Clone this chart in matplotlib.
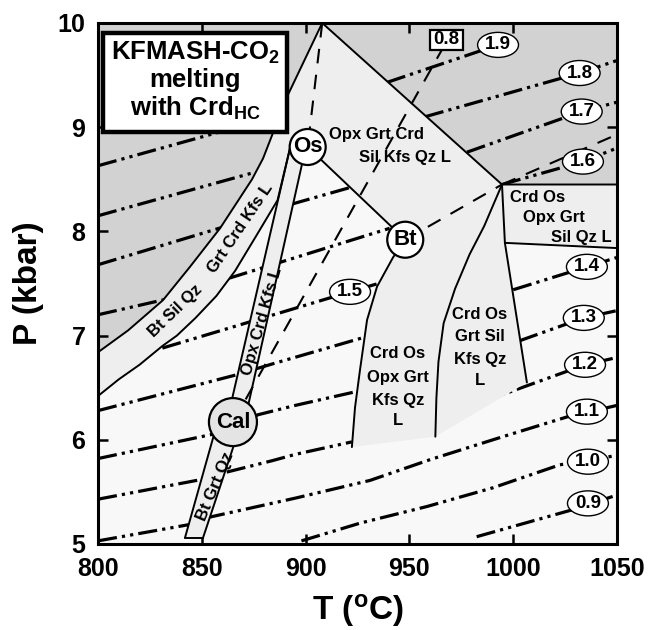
import numpy as np
import matplotlib.pyplot as plt
from matplotlib.patches import Polygon, Ellipse, Rectangle

plt.rcParams['font.family'] = ['Liberation Sans', 'DejaVu Sans']
plt.rcParams['font.weight'] = 'bold'
plt.rcParams['axes.labelweight'] = 'bold'
plt.rcParams['mathtext.fontset'] = 'custom'
plt.rcParams['mathtext.rm'] = 'Liberation Sans:bold'
plt.rcParams['mathtext.bf'] = 'Liberation Sans:bold'
plt.rcParams['mathtext.it'] = 'Liberation Sans:bold'
plt.rcParams['mathtext.default'] = 'rm'

nan = np.nan

# invariant points, T (deg C) and P (kbar)
apex_TP = (908.0, 10.0)
os_TP = (901.0, 8.81)
bt_TP = (948.0, 7.92)
cal_TP = (865.0, 6.17)
junc_TP = (994.6, 8.45)

# Bt Sil Qz Grt Crd Kfs L band
upper_T = [800, 814.5, 831.3, 844.3, 858.8, 867, 874.2, 879.5, 883.8, 891, 908]
upper_P = [6.84, 7.05, 7.34, 7.66, 8.03, 8.28, 8.50, 8.70, 8.92, 9.29, 10.0]
lower_T = [800, 810, 820, 831, 838, 847, 857, 866, 876, 886.5, 892.5]
lower_P = [6.42, 6.58, 6.72, 6.90, 7.00, 7.17, 7.38, 7.62, 7.95, 8.30, 8.80]

# Opx Crd Kfs L band (Os -> Cal)
opx_left_T = [892.5, 863.5]
opx_left_P = [8.80, 6.30]
opx_right_T = [900.0, 872.0]
opx_right_P = [8.80, 6.30]

# Bt Grt Qz band (Cal -> bottom)
btq_left_T = [858.0, 841.9]
btq_left_P = [6.20, 5.06]
btq_right_T = [868.0, 850.6]
btq_right_P = [6.10, 5.06]

# curves below Bt and below the right junction
btlow_T = [948, 942.1, 934.4, 929.6, 926.2, 923.8, 922.3]
btlow_P = [7.92, 7.75, 7.47, 7.15, 6.67, 6.31, 5.93]
jcurve_T = [994.6, 986, 979, 972, 966.5, 964, 963, 962.5]
jcurve_P = [8.45, 8.05, 7.78, 7.45, 7.12, 6.75, 6.40, 6.03]
rline_T = [996.0, 1006.6]
rline_P = [7.89, 6.55]
box_T = [994.6, 1050, 1050, 996.0, 994.6]
box_P = [8.45, 8.45, 7.84, 7.89, 8.45]

# dashed reactions
dash_os_T, dash_os_P = [908, 901], [10.0, 8.81]
dash_bt_T, dash_bt_P = [948, 994.6], [7.92, 8.45]
dash_j_T, dash_j_P = [994.6, 1050], [8.45, 8.93]
dash_08_T, dash_08_P = [865, 965.7], [6.17, 9.745]

# isopleths (NaN splits the visible pieces)
iso_09_T = [982.4, 1028.8, 1050]
iso_09_P = [5.07, 5.33, 5.47]
iso_10_T = [898, 926.2, 958.5, 990.3, 1022.5, 1050]
iso_10_P = [5.03, 5.20, 5.36, 5.54, 5.76, 5.85]
iso_11_T = [800, 845, nan, 852, 895, 931, 960, 995, 1026, 1050]
iso_11_P = [5.03, 5.19, nan, 5.25, 5.44, 5.61, 5.81, 6.03, 6.22, 6.33]
iso_12_T = [800, 858, nan, 862, 884, 895, 922.3, nan, 983.2, 1034.6, 1050]
iso_12_P = [5.43, 5.65, nan, 5.69, 5.80, 5.86, 5.98, nan, 6.35, 6.72, 6.79]
iso_13_T = [800, 864, 877, 895, 923.8, nan, 1003, 1034, 1050]
iso_13_P = [5.82, 6.09, 6.24, 6.33, 6.46, nan, 6.95, 7.17, 7.24]
iso_14_T = [800, 866, 884.3, 927.6, nan, 1000, 1035.5, 1050]
iso_14_P = [6.28, 6.62, 6.73, 6.98, nan, 7.44, 7.66, 7.75]
iso_15_T = [831, 921.4, 935]
iso_15_P = [6.88, 7.42, 7.50]
iso_16_T = [800, 833, nan, 863, 940.5, nan, 994.6, 1033.6, 1050]
iso_16_P = [7.20, 7.35, nan, 7.55, 8.03, nan, 8.45, 8.67, 8.80]
iso_17_T = [800, 860, nan, 893, 923, nan, 977.7, 1033, 1050]
iso_17_P = [7.68, 8.04, nan, 8.26, 8.43, nan, 8.76, 9.15, 9.24]
iso_18_T = [800, 876, nan, 957.5, 1032, 1050]
iso_18_P = [8.15, 8.57, nan, 9.10, 9.52, 9.64]
iso_19_T = [800, 885, nan, 939.2, 992.7]
iso_19_P = [8.63, 9.10, nan, 9.43, 9.79]

iso_labels = ['0.9', '1.0', '1.1', '1.2', '1.3', '1.4', '1.5', '1.6', '1.7', '1.8', '1.9']
label_T = [1036, 1036, 1035.5, 1034.6, 1034, 1035.5, 921.4, 1033.6, 1033, 1032, 992.7]
label_P = [5.39, 5.79, 6.27, 6.72, 7.17, 7.66, 7.42, 8.67, 9.15, 9.52, 9.79]

iso_T = [iso_09_T, iso_10_T, iso_11_T, iso_12_T, iso_13_T, iso_14_T,
         iso_15_T, iso_16_T, iso_17_T, iso_18_T, iso_19_T]
iso_P = [iso_09_P, iso_10_P, iso_11_P, iso_12_P, iso_13_P, iso_14_P,
         iso_15_P, iso_16_P, iso_17_P, iso_18_P, iso_19_P]

DARK = '#d2d2d2'
LIGHT = '#eeeeee'
BG = '#f8f8f8'

fig = plt.figure(figsize=(6.5, 6.3), dpi=100)
ax = fig.add_axes([98 / 650, 1 - 544 / 630, 519 / 650, 521 / 630])
ax.set_xlim(800, 1050)
ax.set_ylim(5, 10)
ax.set_facecolor(BG)


def fill(T, P, color, z):
    ax.add_patch(Polygon(np.column_stack([T, P]), closed=True,
                         facecolor=color, edgecolor='none', zorder=z))


def solid(T, P, lw=1.4):
    ax.plot(T, P, color='k', lw=lw, solid_capstyle='round', zorder=4)


def dashed(T, P):
    ax.plot(T, P, color='k', lw=1.5, linestyle=(0, (7, 5.5)), zorder=4)


# dark fields above the melting reactions
fill([800] + upper_T, [10.0] + upper_P, DARK, 1)
fill([apex_TP[0], 1050, 1050, junc_TP[0]], [10, 10, 8.45, junc_TP[1]], DARK, 1)

# isopleths
for T, P in zip(iso_T, iso_P):
    ax.plot(T, P, color='k', lw=2.3, linestyle=(0, (6, 1.6, 1, 1.6, 1, 1.6)),
            dash_capstyle='butt', zorder=2)

# assemblage fields
fill(upper_T + [os_TP[0]] + lower_T[::-1], upper_P + [os_TP[1]] + lower_P[::-1], LIGHT, 3)
fill([apex_TP[0], junc_TP[0], bt_TP[0], os_TP[0]],
     [apex_TP[1], junc_TP[1], bt_TP[1], os_TP[1]], LIGHT, 3)
fill(opx_left_T + opx_right_T[::-1], opx_left_P + opx_right_P[::-1], LIGHT, 3)
fill(btq_left_T + btq_right_T[::-1], btq_left_P + btq_right_P[::-1], LIGHT, 3)
fill(box_T, box_P, LIGHT, 3)
fill(btlow_T + jcurve_T[::-1] + [bt_TP[0]], btlow_P + jcurve_P[::-1] + [bt_TP[1]], LIGHT, 3)
fill(jcurve_T + rline_T[::-1], jcurve_P + rline_P[::-1], LIGHT, 3)

# reaction boundaries
solid(upper_T, upper_P)
solid(lower_T, lower_P)
solid(opx_left_T, opx_left_P)
solid(opx_right_T, opx_right_P)
solid(btq_left_T, btq_left_P)
solid(btq_right_T, btq_right_P)
solid([btq_left_T[1], btq_right_T[1]], [btq_left_P[1], btq_right_P[1]])
solid([apex_TP[0], junc_TP[0]], [apex_TP[1], junc_TP[1]])
solid([os_TP[0], bt_TP[0]], [os_TP[1], bt_TP[1]])
solid(btlow_T, btlow_P)
solid(jcurve_T, jcurve_P)
solid(rline_T, rline_P)
solid(box_T, box_P)
dashed(dash_os_T, dash_os_P)
dashed(dash_bt_T, dash_bt_P)
dashed(dash_j_T, dash_j_P)
dashed(dash_08_T, dash_08_P)

# isopleth labels
for lab, t, p in zip(iso_labels, label_T, label_P):
    ax.add_patch(Ellipse((t, p), 19.7, 0.24, facecolor='white', edgecolor='k',
                         lw=1.0, zorder=5))
    ax.text(t, p, lab, ha='center', va='center', fontsize=13.5, zorder=6)
ax.add_patch(Rectangle((968 - 8, 9.84 - 0.095), 16, 0.19, facecolor='white',
                       edgecolor='k', lw=1.6, zorder=5))
ax.text(968, 9.84, '0.8', ha='center', va='center', fontsize=13.5, zorder=6)

# invariant points
for (t, p), name, r, fc in [(os_TP, 'Os', 18, 'white'), (bt_TP, 'Bt', 18, 'white'),
                            (cal_TP, 'Cal', 24, '#e4e4e4')]:
    ax.add_patch(Ellipse((t, p), 2 * r / 2.076, 2 * r / 104.2, facecolor=fc,
                         edgecolor='k', lw=1.6, zorder=7))
    ax.text(t, p, name, ha='center', va='center', fontsize=16, zorder=8)

# field names
fs = 12
for txt, t, p in [('Opx Grt Crd', 934, 8.93), ('Sil Kfs Qz L', 948, 8.71),
                  ('Crd Os', 1011.7, 8.33), ('Opx Grt', 1019.7, 8.13), ('Sil Qz L', 1032.7, 7.94),
                  ('Crd Os', 944.5, 6.83), ('Opx Grt', 944.5, 6.60), ('Kfs Qz', 944.5, 6.38),
                  ('L', 944.5, 6.19),
                  ('Crd Os', 984, 7.20), ('Grt Sil', 984, 6.99), ('Kfs Qz', 984, 6.77),
                  ('L', 984, 6.57)]:
    ax.text(t, p, txt, ha='center', va='center', fontsize=fs, zorder=6)
for txt, t, p, rot in [('Bt Sil Qz', 837.1, 7.24, 44), ('Grt Crd Kfs L', 868.7, 8.03, 56),
                       ('Opx Crd Kfs L', 879.1, 7.14, 74), ('Bt Grt Qz', 856.4, 5.55, 67)]:
    ax.text(t, p, txt, ha='center', va='center', fontsize=fs, rotation=rot,
            rotation_mode='anchor', zorder=6)

# title box
ax.add_patch(Rectangle((802.4, 8.95), 88.6, 0.95, facecolor='white', edgecolor='k',
                       lw=3.2, zorder=9))
for txt, p in [('KFMASH-CO$_2$', 9.71), ('melting', 9.45), ('with Crd$_{HC}$', 9.18)]:
    ax.text(846.7, p, txt, ha='center', va='center', fontsize=18.5, zorder=10)

ax.set_xticks([800, 850, 900, 950, 1000, 1050])
ax.set_yticks([5, 6, 7, 8, 9, 10])
ax.tick_params(direction='in', length=7, width=1.8, top=True, right=True,
               labelsize=18, pad=9)
for s in ax.spines.values():
    s.set_linewidth(2.2)
    s.set_zorder(11)
ax.set_xlabel('T ($^{o}$C)', fontsize=24, fontweight='bold', labelpad=8)
ax.set_ylabel('P (kbar)', fontsize=24, fontweight='bold', labelpad=10)

fig.savefig('out.png', dpi=100)
